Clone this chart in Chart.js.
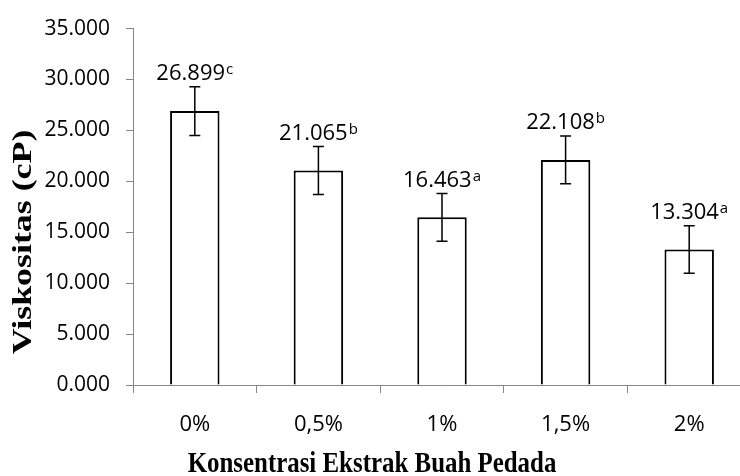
<!DOCTYPE html>
<html lang="id">
<head>
    <meta charset="UTF-8">
    <title>Viskositas</title>
    <script src="https://cdn.jsdelivr.net/npm/chart.js"></script>
    <style>
        html, body {
            margin: 0;
            padding: 0;
            overflow: hidden;
            background: #fff;
        }
        #wrap {
            width: 751px;
            height: 476px;
        }
    </style>
</head>
<body>
    <div id="wrap"><canvas id="viskoChart"></canvas></div>

    <script>
        // data (cP)
        const categories = ['0%', '0,5%', '1%', '1,5%', '2%'];
        const viscosity = [26.899, 21.065, 16.463, 22.108, 13.304];
        const errors = [2.40, 2.35, 2.34, 2.34, 2.34];
        const letters = ['c', 'b', 'a', 'b', 'a'];
        const yTitle = 'Viskositas (cP)';
        const xTitle = 'Konsentrasi Ekstrak Buah Pedada';

        const axisGray = '#868686';

        // error bars + value labels with superscript letters
        const errorBarPlugin = {
            id: 'errorBars',
            afterDatasetsDraw(chart) {
                const ctx = chart.ctx;
                const y = chart.scales.y;
                const meta = chart.getDatasetMeta(0);
                meta.data.forEach(function(bar, i) {
                    const top = y.getPixelForValue(viscosity[i] + errors[i]);
                    const bot = y.getPixelForValue(viscosity[i] - errors[i]);
                    ctx.save();
                    ctx.strokeStyle = '#000';
                    ctx.lineWidth = 1.5;
                    ctx.beginPath();
                    ctx.moveTo(bar.x, top);
                    ctx.lineTo(bar.x, bot);
                    ctx.moveTo(bar.x - 5.5, top);
                    ctx.lineTo(bar.x + 5.5, top);
                    ctx.moveTo(bar.x - 5.5, bot);
                    ctx.lineTo(bar.x + 5.5, bot);
                    ctx.stroke();

                    const main = viscosity[i].toFixed(3);
                    ctx.font = '22px "Open Sans"';
                    const w1 = ctx.measureText(main).width;
                    ctx.font = '15px "Open Sans"';
                    const w2 = ctx.measureText(letters[i]).width;
                    const x0 = bar.x - (w1 + w2 + 1) / 2;
                    const base = top - 7;
                    ctx.fillStyle = '#000';
                    ctx.textAlign = 'left';
                    ctx.textBaseline = 'alphabetic';
                    ctx.font = '22px "Open Sans"';
                    ctx.fillText(main, x0, base);
                    ctx.font = '15px "Open Sans"';
                    ctx.fillText(letters[i], x0 + w1 + 1, base - 6);
                    ctx.restore();
                });
            }
        };

        // axis titles (slightly stretched like the original picture)
        const titlePlugin = {
            id: 'axisTitles',
            afterDraw(chart) {
                const ctx = chart.ctx;
                ctx.save();
                ctx.fillStyle = '#000';
                ctx.font = 'bold 28px "Liberation Serif"';
                ctx.textAlign = 'center';
                ctx.textBaseline = 'middle';
                ctx.translate(24, 242);
                ctx.rotate(-Math.PI / 2);
                ctx.scale(1.28, 1);
                ctx.fillText(yTitle, 0, 0);
                ctx.restore();

                ctx.save();
                ctx.fillStyle = '#000';
                ctx.font = 'bold 30px "Liberation Serif"';
                ctx.textAlign = 'center';
                ctx.textBaseline = 'alphabetic';
                ctx.translate(372, 472);
                ctx.scale(0.83, 1);
                ctx.fillText(xTitle, 0, 0);
                ctx.restore();
            }
        };

        const ctx = document.getElementById('viskoChart').getContext('2d');
        new Chart(ctx, {
            type: 'bar',
            data: {
                labels: categories,
                datasets: [{
                    data: viscosity,
                    backgroundColor: '#ffffff',
                    borderColor: '#000000',
                    borderWidth: 2,
                    barPercentage: 0.4,
                    categoryPercentage: 1.0
                }]
            },
            options: {
                responsive: true,
                maintainAspectRatio: false,
                animation: false,
                layout: {
                    padding: { top: 24, right: 0, bottom: 0, left: 0 }
                },
                plugins: {
                    legend: { display: false },
                    tooltip: { enabled: false }
                },
                scales: {
                    x: {
                        grid: {
                            display: true,
                            drawOnChartArea: false,
                            tickLength: 8,
                            color: axisGray,
                            offset: true
                        },
                        border: { color: axisGray, width: 1 },
                        ticks: {
                            font: { family: '"Open Sans"', size: 22 },
                            color: '#000',
                            padding: 19
                        },
                        afterFit: function(scale) { scale.height = 91; }
                    },
                    y: {
                        min: 0,
                        max: 35,
                        grid: {
                            display: true,
                            drawOnChartArea: false,
                            tickLength: 7,
                            color: axisGray
                        },
                        border: { color: axisGray, width: 1 },
                        ticks: {
                            stepSize: 5,
                            font: { family: '"Open Sans"', size: 21 },
                            color: '#000',
                            padding: 16,
                            callback: function(v) { return v.toFixed(3); }
                        },
                        afterFit: function(scale) { scale.width = 133; }
                    }
                }
            },
            plugins: [errorBarPlugin, titlePlugin]
        });
    </script>
</body>
</html>
